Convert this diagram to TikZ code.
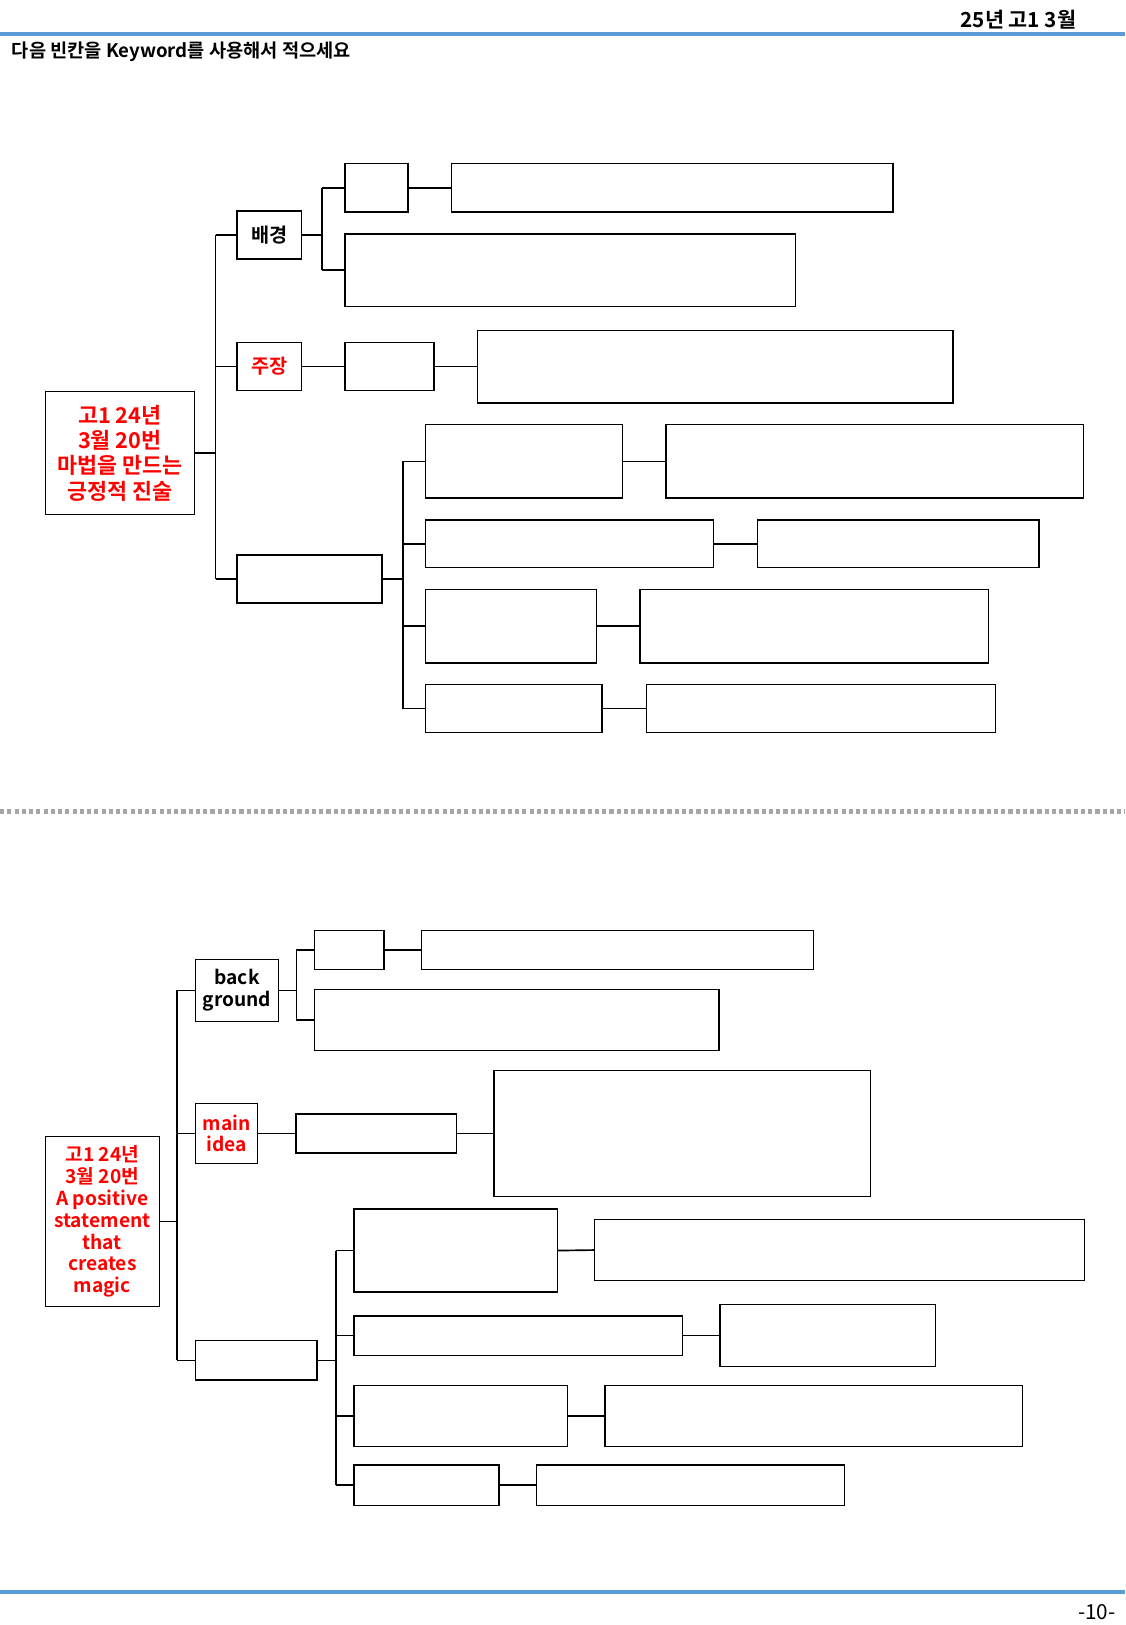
\documentclass[tikz,border=0pt]{standalone}
\usepackage{fontspec}
\setmainfont{Noto Sans CJK KR}[BoldFont={* Bold}]
\begin{document}
\begin{tikzpicture}[x=1pt,y=-1pt,
  bx/.style={draw,line width=1.4pt,anchor=north west,inner sep=0,minimum width=#1},
  red/.style={text=red},
  ln/.style={line width=1.6pt},
  lbl/.style={font=\bfseries\fontsize{19}{20}\selectfont,align=center}]
\useasboundingbox (0,0) rectangle (1086,1568);
\fill[white] (0,0) rectangle (1086,1568);
\draw[line width=4pt,color={rgb,255:red,91;green,155;blue,213}] (0,33) -- (1086,33);
\draw[line width=4pt,color={rgb,255:red,91;green,155;blue,213}] (0,1536) -- (1086,1536);
\node[anchor=east,font=\bfseries\fontsize{20}{22}\selectfont] (hd) at (1042,19) {25년 고1 3월};
\node[anchor=west,font=\bfseries\fontsize{18}{20}\selectfont] (tt) at (8,50) {다음 빈칸을 Keyword를 사용해서 적으세요};
\node[anchor=east,font=\fontsize{20}{22}\selectfont] (pg) at (1080,1556) {-10-};
\draw[gray!70,line width=4pt,dash pattern=on 4pt off 3pt] (0,783) -- (1086,783);
% ---- top
\newcommand{\bxx}[6]{\node[bx=#4-#2,minimum height=#5-#3,lbl,#6] (#1) at (#2,#3) {};}
\node[bx=144,minimum height=119,font=\bfseries\fontsize{21}{24.5}\selectfont,align=center,red] (R) at (43,377) {고1 24년\\3월 20번\\마법을 만드는\\긍정적 진술};
\node[bx=62,minimum height=46,lbl] (A) at (228,203) {배경};
\node[bx=62,minimum height=46,lbl,red] (B) at (228,330) {주장};
\bxx{C}{228}{535}{368}{581}{}
\bxx{a1}{332}{157}{393}{204}{}
\bxx{a2}{435}{157}{861}{204}{}
\bxx{a3}{332}{225}{767}{295}{}
\bxx{b1}{332}{330}{418}{376}{}
\bxx{b2}{460}{318}{919}{388}{}
\bxx{c1}{410}{409}{600}{480}{}
\bxx{c1b}{642}{409}{1045}{480}{}
\bxx{c2}{410}{501}{688}{547}{}
\bxx{c2b}{730}{501}{1002}{547}{}
\bxx{c3}{410}{568}{575}{639}{}
\bxx{c3b}{617}{568}{953}{639}{}
\bxx{c4}{410}{660}{580}{706}{}
\bxx{c4b}{623}{660}{960}{706}{}
\coordinate (T) at (208,0);
\coordinate (TA) at (311,0);
\coordinate (TC) at (389,0);
\draw[ln] (R.east) -- (T|-R.east);
\draw[ln] (T|-A.west) -- (T|-C.west);
\foreach \n in {A,B,C} \draw[ln] (T|-\n.west) -- (\n.west);
\draw[ln] (A.east) -- (TA|-A.east);
\draw[ln] (TA|-a1.west) -- (TA|-a3.west);
\foreach \n in {a1,a3} \draw[ln] (TA|-\n.west) -- (\n.west);
\draw[ln] (a1.east) -- (a2.west);
\draw[ln] (B.east) -- (b1.west);
\draw[ln] (b1.east) -- (b2.west);
\draw[ln] (C.east) -- (TC|-C.east);
\draw[ln] (TC|-c1.west) -- (TC|-c4.west);
\foreach \n in {c1,c2,c3,c4} \draw[ln] (TC|-\n.west) -- (\n.west);
\foreach \n in {c1,c2,c3,c4} \draw[ln] (\n.east) -- (\n b.west);
% ---- bottom
\node[bx=110,minimum height=164,font=\bfseries\fontsize{18.5}{21}\selectfont,align=center,red] (S) at (43,1096) {고1 24년\\3월 20번\\A positive\\statement\\that\\creates\\magic};
\node[bx=80,minimum height=60,lbl,font=\bfseries\fontsize{18.5}{21}\selectfont] (D) at (188,925) {back\\ground};
\node[bx=60,minimum height=58,lbl,red,font=\bfseries\fontsize{18.5}{21}\selectfont] (E) at (188,1064) {main\\idea};
\bxx{F}{188}{1293}{305}{1331}{}
\bxx{d1}{303}{897}{370}{935}{}
\bxx{d2}{406}{897}{784}{935}{}
\bxx{d3}{303}{954}{693}{1013}{}
\bxx{e1}{285}{1074}{440}{1112}{}
\bxx{e2}{476}{1032}{839}{1154}{}
\bxx{f1}{341}{1166}{537}{1246}{}
\bxx{f1b}{573}{1176}{1046}{1235}{}
\bxx{f2}{341}{1269}{658}{1307}{}
\bxx{f2b}{694}{1258}{902}{1318}{}
\bxx{f3}{341}{1336}{547}{1395}{}
\bxx{f3b}{583}{1336}{986}{1395}{}
\bxx{f4}{341}{1413}{481}{1452}{}
\bxx{f4b}{517}{1413}{814}{1452}{}
\coordinate (U) at (171,0);
\coordinate (UD) at (286,0);
\coordinate (UF) at (324,0);
\draw[ln] (S.east) -- (U|-S.east);
\draw[ln] (U|-D.west) -- (U|-F.west);
\foreach \n in {D,E,F} \draw[ln] (U|-\n.west) -- (\n.west);
\draw[ln] (D.east) -- (UD|-D.east);
\draw[ln] (UD|-d1.west) -- (UD|-d3.west);
\foreach \n in {d1,d3} \draw[ln] (UD|-\n.west) -- (\n.west);
\draw[ln] (d1.east) -- (d2.west);
\draw[ln] (E.east) -- (e1.west);
\draw[ln] (e1.east) -- (e2.west);
\draw[ln] (F.east) -- (UF|-F.east);
\draw[ln] (UF|-f1.west) -- (UF|-f4.west);
\foreach \n in {f1,f2,f3,f4} \draw[ln] (UF|-\n.west) -- (\n.west);
\foreach \n in {f1,f2,f3,f4} \draw[ln] (\n.east) -- (\n b.west);
\end{tikzpicture}
\end{document}
